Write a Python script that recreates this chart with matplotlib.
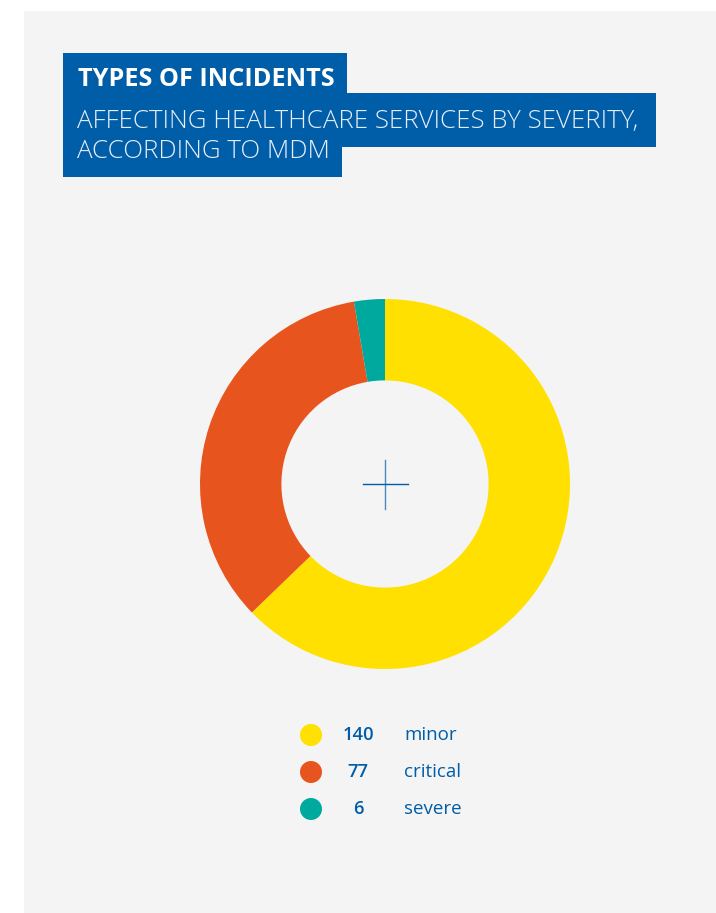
import matplotlib
matplotlib.use('Agg')
import matplotlib.pyplot as plt
from matplotlib.patches import Rectangle, Circle

# data
labels = ['minor', 'critical', 'severe']
values = [140, 77, 6]
colors = ['#FFE000', '#E8541E', '#00A99D']

title = 'TYPES OF INCIDENTS'
subtitle = ['AFFECTING HEALTHCARE SERVICES BY SEVERITY,', 'ACCORDING TO MDM']

blue = '#005DA8'
W, H = 716, 913

plt.rcParams['font.family'] = ['Open Sans', 'DejaVu Sans']

fig = plt.figure(figsize=(W / 100, H / 100), dpi=100)
fig.patch.set_facecolor('white')

# background axes in pixel coords
bg = fig.add_axes([0, 0, 1, 1])
bg.set_xlim(0, W)
bg.set_ylim(H, 0)
bg.axis('off')
bg.add_patch(Rectangle((24, 11), W - 24, H - 11, color='#F4F4F4', lw=0))

# title boxes
bg.add_patch(Rectangle((63, 53), 284, 41, color=blue, lw=0))
bg.add_patch(Rectangle((63, 93), 593, 54, color=blue, lw=0))
bg.add_patch(Rectangle((63, 146), 279, 31, color=blue, lw=0))
bg.text(78, 80, title, color='white', fontsize=18.2, fontweight='bold',
        va='center', ha='left')
bg.text(77, 121.5, subtitle[0], color='#E6EEF7', fontsize=18.6, fontweight='light',
        va='center', ha='left')
bg.text(77, 151.5, subtitle[1], color='#E6EEF7', fontsize=18.6, fontweight='light',
        va='center', ha='left')

# donut
cx, cy, r = 385, 484, 185
ax = fig.add_axes([(cx - r) / W, (H - cy - r) / H, 2 * r / W, 2 * r / H])
ax.pie(values, colors=colors, startangle=90, counterclock=False,
       wedgeprops=dict(width=0.44, linewidth=0))
ax.set_xlim(-1, 1)
ax.set_ylim(-1, 1)
ax.set_aspect('equal')
ax.axis('off')

# crosshair in the middle
bg.plot([363, 408], [484, 484], color=blue, lw=1)
bg.plot([385, 385], [460, 509], color=blue, lw=1, alpha=0.7)

# legend
for i, (lab, val, col) in enumerate(zip(labels, values, colors)):
    y = 735 + i * 37
    bg.add_patch(Circle((311, y), 11, color=col, lw=0))
    bg.text(358, y, str(val), color=blue, fontsize=13.2, fontweight='semibold',
            ha='center', va='center')
    bg.text(404, y, lab, color=blue, fontsize=13.5, ha='left', va='center')

fig.savefig('out.png', dpi=100)
